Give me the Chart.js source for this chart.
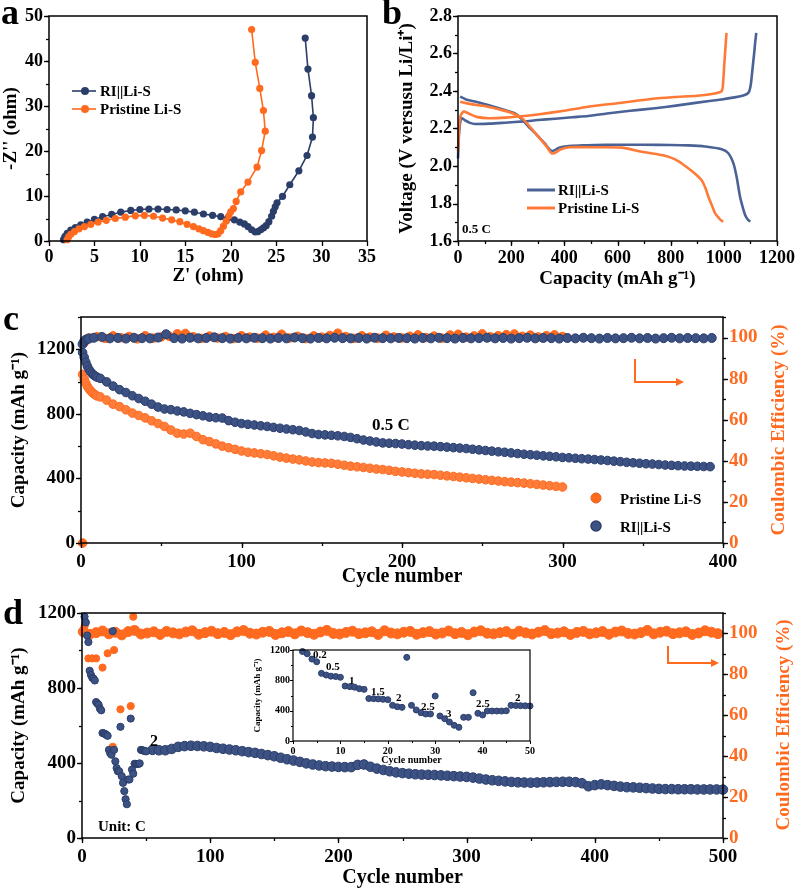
<!DOCTYPE html>
<html><head><meta charset="utf-8">
<script src="https://cdn.jsdelivr.net/npm/chart.js@4.4.1/dist/chart.umd.min.js"></script>
<style>
body{margin:0;background:#fff;width:797px;height:888px;position:relative;overflow:hidden;font-family:'Liberation Serif','Times New Roman',serif;}
canvas{position:absolute;}
.t{position:absolute;font-weight:bold;white-space:nowrap;color:#000;}
svg{position:absolute;left:0;top:0;}
</style></head><body>
<canvas id="ca" width="400" height="290" style="left:0;top:0"></canvas>
<canvas id="cb" width="407" height="290" style="left:390px;top:0"></canvas>
<canvas id="cc" width="797" height="300" style="left:0;top:290px"></canvas>
<canvas id="cd" width="797" height="298" style="left:0;top:590px"></canvas>
<canvas id="ci" width="300" height="130" style="left:240px;top:640px"></canvas>
<svg width="797" height="888" id="ov"></svg>
<script>
// ---------------- DATA ----------------
// Panel a: Nyquist plots
const eisBlueRe = [1.6,1.75,2.0,2.4,2.9,3.5,4.2,5.0,5.9,6.9,7.9,9.0,10.0,11.0,12.0,13.0,14.0,15.0,16.0,17.0,18.0,18.9,19.7,20.4,21.0,21.5,21.9,22.3,22.7,23.0,23.3,23.6,23.9,24.2,24.5,24.7,24.9,25.1,25.7,26.5,27.5,28.4,29.0,29.1,28.9,28.5,28.2];
const eisBlueIm = [0.3,1.0,1.7,2.4,3.0,3.6,4.2,4.8,5.4,5.9,6.4,6.8,7.0,7.1,7.1,7.0,6.9,6.7,6.4,6.0,5.7,5.4,5.1,4.7,4.2,3.8,3.2,2.5,2.0,2.1,2.5,2.9,3.4,4.3,5.5,6.6,7.6,8.5,9.9,12.5,15.6,19.0,23.1,27.4,32.3,38.2,45.1];
const eisOrangeRe = [2.0,2.15,2.4,2.8,3.3,3.9,4.6,5.4,6.3,7.3,8.4,9.5,10.5,11.5,12.5,13.5,14.4,15.2,15.9,16.5,17.0,17.5,17.9,18.3,18.6,18.9,19.2,19.5,19.8,20.0,20.3,20.6,21.1,21.9,22.9,23.4,23.8,23.6,23.2,22.7,22.3];
const eisOrangeIm = [0.3,0.9,1.5,2.1,2.7,3.2,3.7,4.2,4.6,5.0,5.3,5.6,5.7,5.5,5.1,4.7,4.3,3.7,3.2,2.7,2.3,1.9,1.6,1.45,1.6,2.3,3.3,4.4,5.6,6.5,7.2,8.8,10.9,13.1,16.4,20.1,24.4,29.0,33.9,39.7,47.0];

// Panel b: charge/discharge profiles (capacity mAh/g, voltage V)
const bBlueChargeCap = [0,3,8,14,25,45,64,120,177,250,300,365,430,490,560,640,741,820,900,992,1040,1070,1088,1096,1102,1108,1114,1118,1122];
const bBlueChargeV   = [2.04,2.15,2.23,2.255,2.245,2.23,2.224,2.226,2.231,2.238,2.245,2.252,2.26,2.267,2.28,2.293,2.308,2.322,2.338,2.355,2.366,2.375,2.385,2.40,2.44,2.52,2.60,2.66,2.71];
const bBlueDisCap = [8,30,60,113,160,214,240,265,290,310,327,340,352,362,380,416,470,515,600,700,800,866,930,992,1017,1036,1048,1061,1072,1080,1090,1099];
const bBlueDisV   = [2.37,2.355,2.345,2.325,2.305,2.28,2.25,2.21,2.175,2.145,2.12,2.095,2.08,2.083,2.098,2.107,2.11,2.112,2.113,2.113,2.112,2.11,2.104,2.089,2.068,2.014,1.943,1.836,1.775,1.739,1.715,1.703];
const bOrangeChargeCap = [0,4,10,22,40,70,113,180,240,300,400,490,600,741,820,900,960,992,998,1002,1006,1010];
const bOrangeChargeV   = [2.08,2.2,2.27,2.29,2.28,2.262,2.255,2.258,2.265,2.275,2.295,2.316,2.335,2.36,2.368,2.375,2.385,2.40,2.46,2.55,2.63,2.71];
const bOrangeDisCap = [8,50,113,160,200,240,270,300,330,352,365,385,416,500,616,691,750,791,830,866,895,916,930,942,955,967,980,990,998];
const bOrangeDisV   = [2.343,2.33,2.316,2.3,2.284,2.256,2.21,2.16,2.11,2.068,2.07,2.088,2.10,2.10,2.098,2.076,2.063,2.05,2.025,1.988,1.955,1.925,1.885,1.836,1.79,1.748,1.725,1.71,1.703];

// Panel c: long cycling at 0.5 C
const cBlueCapEarlyCycles = [1,2,3,4,5,6,7,8,9,10];
const cBlueCapEarly = [1180,1150,1120,1095,1075,1060,1048,1040,1033,1027];
const cBlueCap = [1020,998,972,950,932,912,895,878,860,842,830,826,818,812,803,795,788,780,776,774,758,748,740,735,731,726,722,716,711,706,702,697,688,678,672,670,667,664,660,654,646,638,632,626,620,618,616,613,609,606,603,601,600,597,594,591,588,585,581,577,573,569,565,562,558,554,550,547,544,540,537,534,530,528,525,522,520,517,514,511,507,504,500,497,494,491,489,486,483,481,479,477,476,475,474,473]; // cycles 12,16,...,392
const cOrangeCapEarlyCycles = [1,2,3,4,5,6,7,8,9,10];
const cOrangeCapEarly = [1045,1015,990,970,955,942,932,924,917,911];
const cOrangeCap = [905,885,860,845,825,805,790,775,757,740,722,700,680,675,680,660,640,628,614,600,590,580,570,562,558,553,548,540,532,526,520,515,508,502,498,496,494,488,482,476,472,468,463,458,455,450,444,440,436,432,428,426,424,420,416,412,408,404,400,396,392,388,384,380,377,374,371,367,363,359,355,351,347]; // cycles 12,16,...,300
const cBlueCEEarlyCycles = [1,2,3,4,5];
const cBlueCEEarly = [96.8,98.2,98.9,99.3,99.5];
const cBlueCE = [99.9,100.3,99.6,99.8,99.5,99.9,99.7,99.6,100.0,101.6,99.7,99.5,99.9,99.6,99.8,100.1,99.7,99.5,99.8,99.6,99.9,99.7,99.5,99.8,99.6,100.0,99.7,99.5,99.8,99.6,99.9,99.7,99.6,99.8,99.5,99.9,99.7,99.6,99.8,99.7,99.5,99.8,99.6,99.9,99.7,99.5,99.8,99.6,99.7,99.9,99.6,99.8,99.5,99.7,99.9,99.6,99.8,99.7,99.5,99.8,99.6,99.9,99.7,99.5,99.8,99.6,99.7,99.9,99.6,99.8,99.5,99.7,99.9,99.6,99.8,99.7,99.6,99.8]; // cycles 8,13,...,393
const cOrangeCEEarlyCycles = [1,2,3];
const cOrangeCEEarly = [0,97.5,98.8];
const cOrangeCE = [99.8,100.4,99.6,100.8,99.9,100.5,99.4,100.9,99.7,100.3,100.6,101.8,102.0,100.4,99.6,100.7,99.8,100.5,99.5,100.9,100.2,99.7,101.2,100.1,101.6,99.8,100.6,99.5,100.8,100.2,101.0,102.1,100.5,99.6,100.9,100.2,99.7,101.1,100.3,99.8,100.6,101.3,100.0,100.7,99.7,101.2,101.6,100.2,100.8,101.8,100.4,100.9,101.4,101.7,100.6,101.2,100.3,100.9,101.3,100.5]; // cycles 5,10,...,300

// Panel d: rate performance then 2 C cycling
const dBlueRate = [1180,1150,1080,1045,892,870,855,850,840,725,717,710,690,681,560,558,555,550,545,470,452,444,1103,470,409,373,356,356,593,330,294,250,207,180,312,312,637,365,343,396,395,395,395,398,470,468,466,464,462]; // cycles 2..50
const dBlueLong = [470,468,468,475,486,490,492,491,489,486,480,476,472,468,463,458,454,448,442,436,428,420,413,406,398,392,387,383,381,379,378,378,390,392,380,370,363,356,350,346,343,340,338,337,336,334,332,330,328,326,322,317,312,308,305,302,299,297,296,295,296,297,298,299,300,300,298,292,276,282,286,282,278,274,271,270,268,266,264,262,261,261,260,260,260,259,259,259,259,258]; // cycles 55,60,...,500
const dOrangeCE = [100.8,99.6,100.4,101.2,99.8,100.6,99.3,100.9,101.5,99.7,100.2,100.8,99.5,101.0,100.3,99.8,100.7,101.3,99.6,100.4,101.1,99.9,100.5,99.4,100.8,101.4,100.1,99.7,100.6,101.0,99.5,100.3,100.9,99.8,101.2,100.4,99.6,100.7,101.5,100.0,99.7,100.5,101.1,99.9,100.3,100.8,99.5,101.3,100.2,99.8,100.6,101.0,99.6,100.4,100.9,99.7,100.2,101.2,99.9,100.5,99.4,100.7,101.3,100.1,99.8,100.4,100.9,99.6,101.1,100.3,99.7,100.6,101.4,99.9,100.2,100.8,99.5,100.5,101.0,99.8,100.3,100.9,99.6,100.7,101.2,100.0,99.7,100.4,101.5,99.8,100.6,101.1,99.9,100.3,100.8,99.5,100.2,101.3,100.6,99.9]; // cycles 1,6,...,496
const dOrangeCEOutCycles = [2,5,8,11,16,20,24,25,30,38,40];
const dOrangeCEOut = [103.5,87.8,87.8,87.8,83.3,90.3,44.6,91.9,62.9,64.5,108.2];

// Tick labels
const aXTicks = [0,5,10,15,20,25,30,35], aYTicks = [0,10,20,30,40,50];
const bXTicks = [0,200,400,600,800,1000,1200], bYTicks = [1.6,1.8,2.0,2.2,2.4,2.6,2.8];
const cXTicks = [0,100,200,300,400], cYTicks = [0,400,800,1200], ceTicks = [0,20,40,60,80,100];
const dXTicks = [0,100,200,300,400,500], dYTicks = [0,400,800,1200];
const iXTicks = [0,10,20,30,40,50], iYTicks = [0,400,800,1200];

// ---------------- HELPERS ----------------
const NAVY = '#2b3e6a', NAVYF = '#3d5284', ORANGE = '#ff6a1f', ORANGEF = '#ff7d3a', BLUEL = '#4a6296', ORANGEL = '#ff7a36';
const seq = (start, step, n) => Array.from({length: n}, (_, i) => start + step * i);
const xy = (xs, ys) => ys.map((y, i) => ({x: xs[i], y}));
Chart.defaults.font.family = "'Liberation Serif','Times New Roman',serif";
Chart.defaults.font.weight = 'bold';
Chart.defaults.color = '#000';
Chart.defaults.animation = false;
Chart.defaults.plugins.legend.display = false;
Chart.defaults.plugins.tooltip.enabled = false;

function lin(o) {
  return {
    type: 'linear', position: o.position, min: o.min, max: o.max,
    afterBuildTicks: s => { s.ticks = o.ticks.map(v => ({value: v})); },
    afterFit: s => { if (s.isHorizontal()) s.height = o.size; else s.width = o.size; },
    grid: {display: false, drawTicks: true, tickLength: o.tl || 5},
    border: {display: false},
    ticks: {padding: o.pad, color: o.color || '#000', font: {size: o.fs, weight: 'bold'}, maxRotation: 0, autoSkip: false,
            callback: o.fmt || (v => String(v))},
    title: o.title ? {display: true, text: o.title, color: '#000', font: {size: o.tfs, weight: 'bold', lineHeight: o.tlh || 1.2}, padding: o.tpad} : {display: false}
  };
}
const frame = {
  id: 'frame',
  afterDraw(chart, args, o) {
    const {ctx, chartArea: a} = chart;
    ctx.save();
    ctx.strokeStyle = '#000';
    ctx.lineWidth = o.lw || 1.5;
    ctx.strokeRect(a.left, a.top, a.right - a.left, a.bottom - a.top);
    ctx.lineWidth = o.tw || 1.3;
    for (const id of Object.keys(chart.scales)) {
      const s = chart.scales[id];
      const list = s.ticks.map(t => [t.value, o.major || 5]);
      const m = (o.minor || {})[id];
      if (m) for (let k = 0; s.min + k * m <= s.max + 1e-9; k++) list.push([s.min + k * m, o.minorLen || 3]);
      for (const [v, len] of list) {
        const p = Math.round(s.getPixelForValue(v)) + 0.5;
        ctx.beginPath();
        if (s.isHorizontal()) { ctx.moveTo(p, a.bottom); ctx.lineTo(p, a.bottom + len); }
        else if (s.position === 'left') { ctx.moveTo(a.left, p); ctx.lineTo(a.left - len, p); }
        else { ctx.moveTo(a.right, p); ctx.lineTo(a.right + len, p); }
        ctx.stroke();
      }
    }
    ctx.restore();
  }
};

// ---------------- PANEL A ----------------
new Chart(document.getElementById('ca'), {
  type: 'scatter',
  data: {datasets: [
    {data: xy(eisOrangeRe, eisOrangeIm), showLine: true, borderColor: ORANGE, backgroundColor: ORANGE, pointRadius: 3.6, pointBorderWidth: 0, borderWidth: 1.6, clip: false, order: 0},
    {data: xy(eisBlueRe, eisBlueIm), showLine: true, borderColor: NAVY, backgroundColor: NAVY, pointRadius: 3.6, pointBorderWidth: 0, borderWidth: 1.6, clip: false, order: 1}
  ]},
  options: {responsive: false, layout: {padding: {left: 0, top: 16, right: 33, bottom: 0}},
    scales: {
      x: lin({position: 'bottom', min: 0, max: 35, ticks: aXTicks, size: 49, fs: 18, pad: 1, title: "Z' (ohm)", tfs: 19, tpad: {top: 0, bottom: 3}}),
      y: lin({position: 'left', min: 0, max: 50, ticks: aYTicks, size: 49, fs: 18, pad: 1, title: "-Z'' (ohm)", tfs: 19, tpad: {top: 0, bottom: 0}})
    },
    plugins: {frame: {minor: {y: 5}}}
  },
  plugins: [frame]
});

// ---------------- PANEL B ----------------
const lineDs = (xs, ys, c) => ({data: xy(xs, ys), showLine: true, borderColor: c, borderWidth: 2.6, pointRadius: 0, tension: 0.25, clip: false});
new Chart(document.getElementById('cb'), {
  type: 'scatter',
  data: {datasets: [
    lineDs(bOrangeChargeCap, bOrangeChargeV, ORANGEL),
    lineDs(bOrangeDisCap, bOrangeDisV, ORANGEL),
    lineDs(bBlueChargeCap, bBlueChargeV, BLUEL),
    lineDs(bBlueDisCap, bBlueDisV, BLUEL)
  ]},
  options: {responsive: false, layout: {padding: {left: 0, top: 16, right: 20, bottom: 0}},
    scales: {
      x: lin({position: 'bottom', min: 0, max: 1200, ticks: bXTicks, size: 49, fs: 18, pad: 2, title: 'Capacity (mAh g\u207B\u00B9)', tfs: 19, tpad: {top: 0, bottom: 0}}),
      y: lin({position: 'left', min: 1.6, max: 2.8, ticks: bYTicks, size: 68, fs: 18, pad: 1, fmt: v => v.toFixed(1), title: 'Voltage (V versusu Li/Li\u207A)', tfs: 19, tpad: {top: 6, bottom: 0}})
    },
    plugins: {frame: {minor: {x: 100, y: 0.1}}}
  },
  plugins: [frame]
});

// ---------------- PANEL C ----------------
const mk = (data, c, fill, r, axis, order) => ({data, yAxisID: axis, borderColor: c, backgroundColor: fill, pointRadius: r, pointBorderWidth: 1, clip: false, order});
new Chart(document.getElementById('cc'), {
  type: 'scatter',
  data: {datasets: [
    mk(xy(cBlueCEEarlyCycles, cBlueCEEarly).concat(xy(seq(8, 5, cBlueCE.length), cBlueCE)), NAVY, NAVYF, 4.5, 'y1', 0),
    mk(xy(cOrangeCEEarlyCycles, cOrangeCEEarly).concat(xy(seq(5, 5, cOrangeCE.length), cOrangeCE)), ORANGE, ORANGE, 4.3, 'y1', 1),
    mk(xy(cBlueCapEarlyCycles, cBlueCapEarly).concat(xy(seq(12, 4, cBlueCap.length), cBlueCap)), NAVY, NAVYF, 4.3, 'y', 2),
    mk(xy(cOrangeCapEarlyCycles, cOrangeCapEarly).concat(xy(seq(12, 4, cOrangeCap.length), cOrangeCap)), ORANGE, ORANGEF, 4.3, 'y', 3)
  ]},
  options: {responsive: false, layout: {padding: {left: 0, top: 27, right: 0, bottom: 0}},
    scales: {
      x: lin({position: 'bottom', min: 0, max: 400, ticks: cXTicks, size: 47, fs: 19, pad: 3, title: 'Cycle number', tfs: 20, tpad: {top: 0, bottom: 1}}),
      y: lin({position: 'left', min: 0, max: 1400, ticks: cYTicks, size: 81, fs: 19, pad: 1, title: 'Capacity (mAh g\u207B\u00B9)', tfs: 19, tpad: {top: 8, bottom: 0}}),
      y1: lin({position: 'right', min: 0, max: 110, ticks: ceTicks, size: 74, fs: 19, pad: 1, color: ORANGE})
    },
    plugins: {frame: {minor: {x: 50, y: 200, y1: 10}}}
  },
  plugins: [frame]
});

// ---------------- PANEL D ----------------
new Chart(document.getElementById('cd'), {
  type: 'scatter',
  data: {datasets: [
    mk(xy(seq(2, 1, dBlueRate.length), dBlueRate), NAVY, NAVYF, 3.6, 'y', 0),
    mk(xy(seq(55, 5, dBlueLong.length), dBlueLong), NAVY, NAVYF, 4.8, 'y', 1),
    mk(xy(dOrangeCEOutCycles, dOrangeCEOut), ORANGE, ORANGE, 3.6, 'y1', 2),
    mk(xy(seq(1, 5, dOrangeCE.length), dOrangeCE), ORANGE, ORANGE, 5, 'y1', 3)
  ]},
  options: {responsive: false, layout: {padding: {left: 0, top: 23, right: 0, bottom: 0}},
    scales: {
      x: lin({position: 'bottom', min: 0, max: 500, ticks: dXTicks, size: 50, fs: 19, pad: 3, title: 'Cycle number', tfs: 20, tlh: 1.0, tpad: {top: 0, bottom: 0}}),
      y: lin({position: 'left', min: 0, max: 1200, ticks: dYTicks, size: 82, fs: 19, pad: 1, title: 'Capacity (mAh g\u207B\u00B9)', tfs: 19, tpad: {top: 8, bottom: 0}}),
      y1: lin({position: 'right', min: 0, max: 110, ticks: ceTicks, size: 74, fs: 19, pad: 1, color: ORANGE})
    },
    plugins: {frame: {minor: {x: 50, y: 200, y1: 10}}}
  },
  plugins: [frame]
});

// ---------------- INSET ----------------
new Chart(document.getElementById('ci'), {
  type: 'scatter',
  data: {datasets: [ mk(xy(seq(2, 1, dBlueRate.length), dBlueRate), NAVY, NAVYF, 3, 'y', 0) ]},
  options: {responsive: false, layout: {padding: {left: 0, top: 10, right: 10, bottom: 0}},
    scales: {
      x: lin({position: 'bottom', min: 0, max: 50, ticks: iXTicks, size: 29, fs: 10, pad: 1, tl: 3, title: 'Cycle number', tfs: 10, tpad: {top: 0, bottom: 4}}),
      y: lin({position: 'left', min: 0, max: 1200, ticks: iYTicks, size: 53, fs: 10, pad: 0, tl: 3, title: 'Capacity (mAh g\u207B\u00B9)', tfs: 9, tpad: {top: 12, bottom: 0}})
    },
    plugins: {frame: {lw: 1.2, tw: 1, major: 3, minorLen: 2, minor: {x: 5, y: 200}}}
  },
  plugins: [frame]
});

// ---------------- TEXT & DECORATIONS ----------------
function txt(x, yc, s, size, opt = {}) {
  const d = document.createElement('div');
  d.className = 't';
  d.textContent = s;
  d.style.fontSize = size + 'px';
  d.style.lineHeight = size + 'px';
  d.style.left = x + 'px';
  d.style.top = (yc - size / 2) + 'px';
  if (opt.color) d.style.color = opt.color;
  if (opt.rot) { d.style.transformOrigin = '0 0'; d.style.transform = 'rotate(-90deg) translate(-50%, 0)'; d.style.left = (x - size / 2) + 'px'; d.style.top = yc + 'px'; }
  document.body.appendChild(d);
  return d;
}
// panel letters
txt(1, 12, 'a', 36); txt(382, 12, 'b', 36); txt(3, 318, 'c', 36); txt(3, 612, 'd', 36);
// legends a
txt(100, 91, 'RI||Li-S', 15); txt(100, 109, 'Pristine Li-S', 15);
// legends b
txt(558, 190, 'RI||Li-S', 15); txt(558, 208, 'Pristine Li-S', 15);
txt(462, 228, '0.5 C', 13);
// panel c
txt(372, 424, '0.5 C', 17);
txt(620, 499, 'Pristine Li-S', 15); txt(620, 527, 'RI||Li-S', 15);
txt(777, 430, 'Coulombic Efficiency (%)', 19, {color: ORANGE, rot: true});
// panel d
txt(150, 741, '2', 16); txt(98, 826, 'Unit: C', 15);
txt(782, 725, 'Coulombic Efficiency (%)', 19, {color: ORANGE, rot: true});
// inset rate labels
txt(313, 654, '0.2', 11); txt(326, 666, '0.5', 11); txt(349, 680, '1', 11); txt(371, 691, '1.5', 11);
txt(396, 697, '2', 11); txt(421, 706, '2.5', 11); txt(446, 713, '3', 11); txt(476, 703, '2.5', 11); txt(515, 697, '2', 11);

const ov = document.getElementById('ov');
ov.innerHTML = `
 <line x1="72" y1="91" x2="96" y2="91" stroke="${NAVY}" stroke-width="1.6"/><circle cx="85" cy="91" r="4" fill="${NAVY}"/>
 <line x1="72" y1="109" x2="96" y2="109" stroke="${ORANGE}" stroke-width="1.6"/><circle cx="85" cy="109" r="4" fill="${ORANGE}"/>
 <line x1="527" y1="190" x2="555" y2="190" stroke="${BLUEL}" stroke-width="3"/>
 <line x1="527" y1="208" x2="555" y2="208" stroke="${ORANGEL}" stroke-width="3"/>
 <circle cx="596" cy="498" r="5" fill="${ORANGE}" stroke="#e85a12" stroke-width="1"/>
 <circle cx="596" cy="526" r="5" fill="${NAVYF}" stroke="${NAVY}" stroke-width="1.5"/>
 <polyline points="635,359 635,382 676,382" fill="none" stroke="${ORANGE}" stroke-width="2"/>
 <polygon points="676,378 684,382 676,386" fill="${ORANGE}"/>
 <polyline points="668,646 668,663 711,663" fill="none" stroke="${ORANGE}" stroke-width="2"/>
 <polygon points="711,659 719,663 711,667" fill="${ORANGE}"/>`;
</script>
</body></html>
